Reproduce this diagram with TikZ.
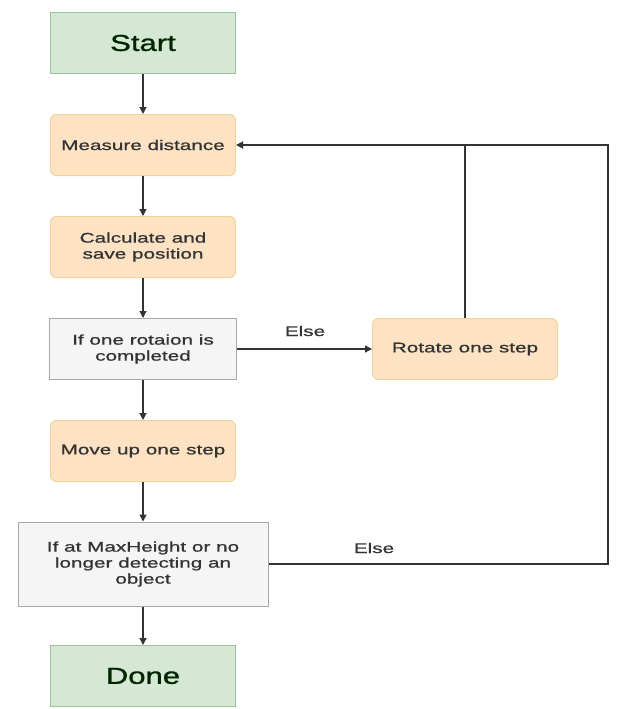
\documentclass[tikz,border=0pt]{standalone}
\usepackage{fontspec}
\setmainfont{Liberation Sans}
\newfontfamily\widefont[FakeStretch=1.48,FakeBold=0.9]{Liberation Sans}
\newfontfamily\bigfont[FakeStretch=1.35,FakeBold=1.2]{Liberation Sans}
\usetikzlibrary{arrows.meta}
\definecolor{gfill}{HTML}{D5E8D4}
\definecolor{gline}{HTML}{9CC49A}
\definecolor{ofill}{HTML}{FDE3C4}
\definecolor{oline}{HTML}{EED49A}
\definecolor{sfill}{HTML}{F5F5F5}
\definecolor{sline}{HTML}{A8A8A8}
\definecolor{ink}{HTML}{333333}
\tikzset{
  box/.style={minimum width=185pt, minimum height=61pt, inner sep=2pt, align=center,
    font=\widefont\fontsize{14}{16}\selectfont, text=ink, line width=1pt},
  term/.style={box, draw=gline, fill=gfill, font=\bigfont\fontsize{23}{26}\selectfont, text=black!85!green},
  proc/.style={box, draw=oline, fill=ofill, rounded corners=6pt},
  cond/.style={box, draw=sline, fill=sfill},
  arr/.style={draw=ink, line width=1.2pt, -{Triangle[length=7pt,width=7pt]}},
  ln/.style={draw=ink, line width=1.2pt},
  lbl/.style={font=\widefont\fontsize{14}{16}\selectfont, text=ink, inner sep=0pt}
}
\begin{document}
\begin{tikzpicture}[x=1pt,y=-1pt]
\useasboundingbox (0,0) rectangle (633,709);
\node[term] (start) at (143,43) {Start};
\node[proc] (measure) at (143,145) {Measure distance};
\node[proc] (calc) at (143,247) {Calculate and\\save position};
\node[cond, minimum width=187pt] (rot) at (143,349) {If one rotaion is\\completed};
\node[proc] (rotate) at (465,349) {Rotate one step};
\node[proc] (move) at (143,451) {Move up one step};
\node[cond, minimum width=250pt, minimum height=84pt] (ifmax) at (143,564) {If at MaxHeight or no\\longer detecting an\\object};
\node[term] (done) at (143,676) {Done};
\coordinate (rc) at (608,564);
\node[lbl] (else1) at (305,331) {Else};
\node[lbl] (else2) at (374,548) {Else};
\draw[arr] (start) -- (measure);
\draw[arr] (measure) -- (calc);
\draw[arr] (calc) -- (rot);
\draw[arr] (rot) -- (move);
\draw[arr] (move) -- (ifmax);
\draw[arr] (ifmax) -- (done);
\draw[arr] (rot) -- (rotate);
\draw[ln] (rotate.north) -- (rotate.north |- measure.east);
\draw[arr] (ifmax.east) -- (rc) |- (measure.east);
\end{tikzpicture}
\end{document}
